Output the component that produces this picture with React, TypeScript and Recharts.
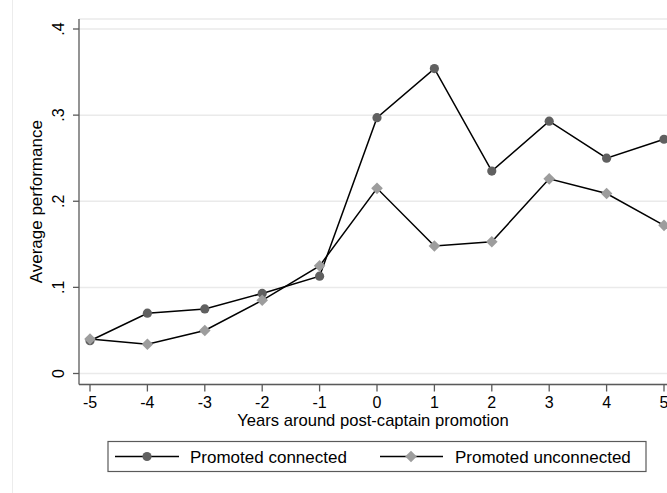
import React from "react";
import { LineChart, Line, XAxis, YAxis, CartesianGrid, Label } from "recharts";

// Years relative to the post-captain promotion
const years = [-5, -4, -3, -2, -1, 0, 1, 2, 3, 4, 5];

// Average performance by group
const connected = [0.038, 0.070, 0.075, 0.093, 0.113, 0.297, 0.354, 0.235, 0.293, 0.250, 0.272];
const unconnected = [0.040, 0.034, 0.050, 0.085, 0.125, 0.215, 0.148, 0.153, 0.226, 0.209, 0.172];

const yTicks = [0, 0.1, 0.2, 0.3, 0.4];
const yTickLabels = ["0", ".1", ".2", ".3", ".4"];

const seriesNames = ["Promoted connected", "Promoted unconnected"];
const xTitle = "Years around post-captain promotion";
const yTitle = "Average performance";

const data = years.map((year, i) => ({
  year,
  connected: connected[i],
  unconnected: unconnected[i],
}));

const FONT = "'Liberation Sans', Arial, Helvetica, sans-serif";
const AXIS = "#5a5a5a";
const GRID = "#eaeaea";
const DARK = "#606060";
const LIGHT = "#9d9d9d";

const CircleDot = (props: any) => {
  const { cx, cy, index } = props;
  if (cx == null || cy == null) return <g key={`c-${index}`} />;
  return <circle key={`c-${index}`} cx={cx} cy={cy} r={4.6} fill={DARK} />;
};

const DiamondDot = (props: any) => {
  const { cx, cy, index } = props;
  if (cx == null || cy == null) return <g key={`d-${index}`} />;
  const h = 5.8;
  return (
    <polygon
      key={`d-${index}`}
      points={`${cx},${cy - h} ${cx + h},${cy} ${cx},${cy + h} ${cx - h},${cy}`}
      fill={LIGHT}
    />
  );
};

const XTick = (props: any) => {
  const { x, y, payload } = props;
  return (
    <text x={x} y={y} dy={16} textAnchor="middle" fontFamily={FONT} fontSize={16} fill="#000">
      {String(payload.value)}
    </text>
  );
};

const YTick = (props: any) => {
  const { x, y, payload, index } = props;
  const i = yTicks.indexOf(payload.value);
  const label = i >= 0 ? yTickLabels[i] : String(payload.value);
  return (
    <text
      key={`yt-${index}`}
      transform={`translate(${x - 9},${y}) rotate(-90)`}
      textAnchor="middle"
      fontFamily={FONT}
      fontSize={16}
      fill="#000"
    >
      {label}
    </text>
  );
};

const LegendBox = () => (
  <svg
    width={667}
    height={493}
    style={{ position: "absolute", left: 0, top: 0, pointerEvents: "none" }}
  >
    <rect x={108} y={441.5} width={538} height={30} fill="#fff" stroke={AXIS} strokeWidth={1.2} />
    <line x1={115} y1={456.5} x2={179} y2={456.5} stroke="#000" strokeWidth={1.5} />
    <circle cx={147} cy={456.5} r={4.6} fill={DARK} />
    <text x={190} y={463} fontFamily={FONT} fontSize={17} fill="#000">
      {seriesNames[0]}
    </text>
    <line x1={380} y1={456.5} x2={443} y2={456.5} stroke="#000" strokeWidth={1.5} />
    <polygon points="411,450.7 416.8,456.5 411,462.3 405.2,456.5" fill={LIGHT} />
    <text x={455} y={463} fontFamily={FONT} fontSize={17} fill="#000">
      {seriesNames[1]}
    </text>
  </svg>
);

export default function App() {
  return (
    <div
      style={{
        position: "absolute",
        left: 0,
        top: 0,
        width: 667,
        height: 493,
        background: "#fff",
        overflow: "hidden",
      }}
    >
      <div
        style={{
          position: "absolute",
          left: 12,
          top: 0,
          width: 0,
          height: 493,
          borderLeft: "1px solid #ececec",
        }}
      />
      <div style={{ position: "absolute", left: 0, top: 0 }}>
        <LineChart
          width={667}
          height={493}
          data={data}
          margin={{ top: 19, right: 0, bottom: 78.5, left: 0 }}
        >
          <CartesianGrid horizontal vertical={false} stroke={GRID} strokeWidth={1.5} />
          <XAxis
            dataKey="year"
            type="number"
            domain={[-5, 5]}
            ticks={years}
            interval={0}
            padding={{ left: 11, right: 3 }}
            height={30}
            axisLine={{ stroke: AXIS, strokeWidth: 1.3 }}
            tickLine={{ stroke: AXIS, strokeWidth: 1.3 }}
            tickSize={7}
            tickMargin={0}
            tick={<XTick />}
          >
            <Label
              content={(p: any) => {
                const vb = p.viewBox || {};
                const cx = (vb.x ?? 79) + (vb.width ?? 588) / 2;
                return (
                  <text x={cx} y={426} textAnchor="middle" fontFamily={FONT} fontSize={16.6} fill="#000">
                    {xTitle}
                  </text>
                );
              }}
            />
          </XAxis>
          <YAxis
            type="number"
            domain={[0, 0.4]}
            ticks={yTicks}
            interval={0}
            padding={{ top: 10, bottom: 11 }}
            width={79}
            axisLine={{ stroke: AXIS, strokeWidth: 1.3 }}
            tickLine={{ stroke: AXIS, strokeWidth: 1.3 }}
            tickSize={6}
            tickMargin={0}
            tick={<YTick />}
          >
            <Label
              content={(p: any) => {
                const vb = p.viewBox || {};
                const cy = (vb.y ?? 19) + (vb.height ?? 365.5) / 2;
                return (
                  <text
                    transform={`translate(42,${cy}) rotate(-90)`}
                    textAnchor="middle"
                    fontFamily={FONT}
                    fontSize={17}
                    fill="#000"
                  >
                    {yTitle}
                  </text>
                );
              }}
            />
          </YAxis>
          <Line
            dataKey="connected"
            name={seriesNames[0]}
            stroke="#000"
            strokeWidth={1.5}
            dot={CircleDot}
            activeDot={false}
            isAnimationActive={false}
          />
          <Line
            dataKey="unconnected"
            name={seriesNames[1]}
            stroke="#000"
            strokeWidth={1.5}
            dot={DiamondDot}
            activeDot={false}
            isAnimationActive={false}
          />
        </LineChart>
      </div>
      <LegendBox />
    </div>
  );
}
